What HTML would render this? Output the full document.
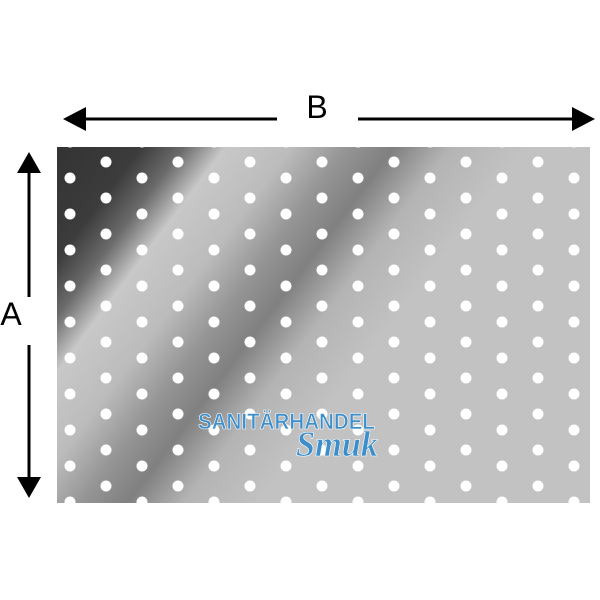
<!DOCTYPE html>
<html><head><meta charset="utf-8"><style>
html,body{margin:0;padding:0;background:#fff;width:600px;height:600px;overflow:hidden}
</style></head><body>
<svg width="600" height="600" viewBox="0 0 600 600" xmlns="http://www.w3.org/2000/svg">
<defs>
<linearGradient id="g" gradientUnits="userSpaceOnUse" x1="57" y1="147" x2="357" y2="372">
<stop offset="0" stop-color="#333"/>
<stop offset="0.18" stop-color="#3c3c3c"/>
<stop offset="0.27" stop-color="#6a6a6a"/>
<stop offset="0.36" stop-color="#c8c8c8"/>
<stop offset="0.5" stop-color="#bcbcbc"/>
<stop offset="0.62" stop-color="#959595"/>
<stop offset="0.72" stop-color="#808080"/>
<stop offset="0.84" stop-color="#b4b4b4"/>
<stop offset="1" stop-color="#c2c2c2"/>
</linearGradient>
<pattern id="p" patternUnits="userSpaceOnUse" x="52" y="144" width="72" height="36">
<circle cx="18" cy="34" r="5.5" fill="#fff"/>
<circle cx="18" cy="-2" r="5.5" fill="#fff"/>
<circle cx="54" cy="18" r="5.5" fill="#fff"/>
</pattern>
</defs>
<rect x="57" y="147" width="533" height="356" fill="url(#g)"/>
<rect x="57" y="147" width="533" height="356" fill="url(#p)"/>
<line x1="80" y1="119" x2="277" y2="119" stroke="#000" stroke-width="3"/>
<line x1="358" y1="119" x2="576" y2="119" stroke="#000" stroke-width="3"/>
<polygon points="63,119 86,107 86,131" fill="#000"/>
<polygon points="595,119 572,107 572,131" fill="#000"/>
<line x1="29" y1="168" x2="29" y2="297" stroke="#000" stroke-width="3"/>
<line x1="29" y1="345" x2="29" y2="482" stroke="#000" stroke-width="3"/>
<polygon points="29,152 17,173 41,173" fill="#000"/>
<polygon points="29,498 17,477 41,477" fill="#000"/>
<text x="317" y="118" font-family="Liberation Sans, sans-serif" font-size="32" text-anchor="middle" fill="#000">B</text>
<text x="11" y="325" font-family="Liberation Sans, sans-serif" font-size="32" text-anchor="middle" fill="#000">A</text>
<text x="198" y="429" textLength="177" lengthAdjust="spacingAndGlyphs" font-family="Liberation Sans, sans-serif" font-weight="bold" font-size="22" fill="#3d8fcc" stroke="#fff" stroke-width="0.6">SANITÄRHANDEL</text>
<text x="296" y="456" textLength="82" lengthAdjust="spacingAndGlyphs" font-family="Liberation Serif, serif" font-style="italic" font-weight="bold" font-size="36" fill="#3d8fcc" stroke="#fff" stroke-width="0.6">Smuk</text>
</svg>
</body></html>
